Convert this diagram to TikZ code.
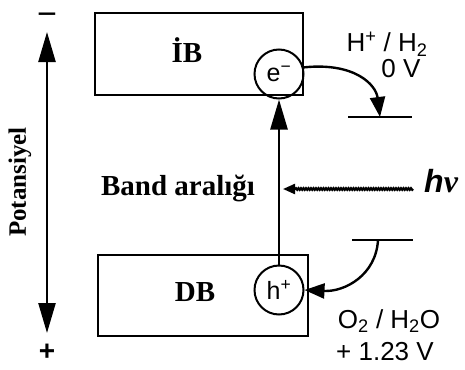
\documentclass[tikz,border=0pt]{standalone}
\usepackage{fontspec}
\setmainfont{Liberation Serif}
\setsansfont{Liberation Sans}
\usepackage{tikz}
\usetikzlibrary{positioning, arrows.meta, decorations.pathmorphing}

\begin{document}
\begin{tikzpicture}[x=1pt, y=-1pt,
    bandbox/.style={draw, line width=2.6pt, inner sep=0pt},
    bandlabel/.style={anchor=base, inner sep=0pt, font=\fontsize{29}{30}\selectfont\bfseries},
    carrier/.style={draw, circle, line width=2pt, minimum size=49pt, inner sep=0pt,
                    font=\sffamily\fontsize{25}{26}\selectfont},
    redox/.style={anchor=base, inner sep=0pt, font=\sffamily\fontsize{26}{26}\selectfont},
    bigtip/.style={-{Triangle[length=30pt, width=17pt]}, line width=2.6pt},
    smalltip/.style={-{Triangle[length=20pt, width=15pt]}, line width=2.4pt},
    level/.style={line width=2.6pt}]
  \useasboundingbox (0,0) rectangle (465,369);

  % bands
  \node[bandbox, minimum width=208pt, minimum height=82pt] (cb) at (199,54) {};
  \node[bandbox, minimum width=210pt, minimum height=81pt] (vb) at (203,295.5) {};
  \node[bandlabel] (cblabel) at (187,62) {İB};
  \node[bandlabel] (vblabel) at (195,301) {DB};
  \node[bandlabel] (gap) at (178,195) {Band aralığı};

  % carriers
  \node[carrier] (el) at (279,74) {e\textsuperscript{−}};
  \node[carrier] (ho) at (279,290) {h\textsuperscript{+}};
  \draw[bigtip] (ho) -- (el);

  % potential axis
  \node[anchor=base, inner sep=0pt, font=\sffamily\fontsize{34}{34}\selectfont] (minus) at (47,26) {−};
  \node[anchor=base, inner sep=0pt, font=\sffamily\bfseries\fontsize{28}{28}\selectfont] (plus) at (47,360) {+};
  \coordinate (ptop) at (47,32);
  \coordinate (pbot) at (47,333);
  \draw[{Triangle[length=30pt, width=17pt]}-{Triangle[length=30pt, width=17pt]}, line width=2.4pt] (ptop) -- (pbot);
  \node[rotate=90, font=\fontsize{25}{26}\selectfont\bfseries] (pot) at (20,182) {Potansiyel};

  % light
  \node[anchor=base west, inner sep=0pt, font=\fontsize{32}{32}\selectfont\bfseries\itshape] (hnu) at (424,192) {{\sffamily h}ν};
  \coordinate (hit) at (283,189);
  \draw[line width=2.2pt, -{Triangle[length=12pt, width=10pt]},
        decorate, decoration={snake, amplitude=0.8pt, segment length=2.5pt, post length=12pt}]
    ([xshift=-11pt]hnu.west |- hit) -- (hit);

  % redox levels
  \coordinate (hl) at (380,117);
  \coordinate (ol) at (378,240);
  \draw[level] (348,117) -- (412,117);
  \draw[level] (352,240) -- (413,240);
  \node[redox] (hred) at (387,52) {H\textsuperscript{+} / H\textsubscript{2}};
  \node[redox] (hpot) at (401,77) {0 V};
  \node[redox] (ored) at (389,328) {O\textsubscript{2} / H\textsubscript{2}O};
  \node[redox] (opot) at (385,360) {+ 1.23 V};

  \draw[smalltip] (el.15) .. controls (355,62) and (376,85) .. (hl);
  \draw[smalltip] (ol) .. controls (376,275) and (345,292) .. (ho.east);
\end{tikzpicture}
\end{document}
